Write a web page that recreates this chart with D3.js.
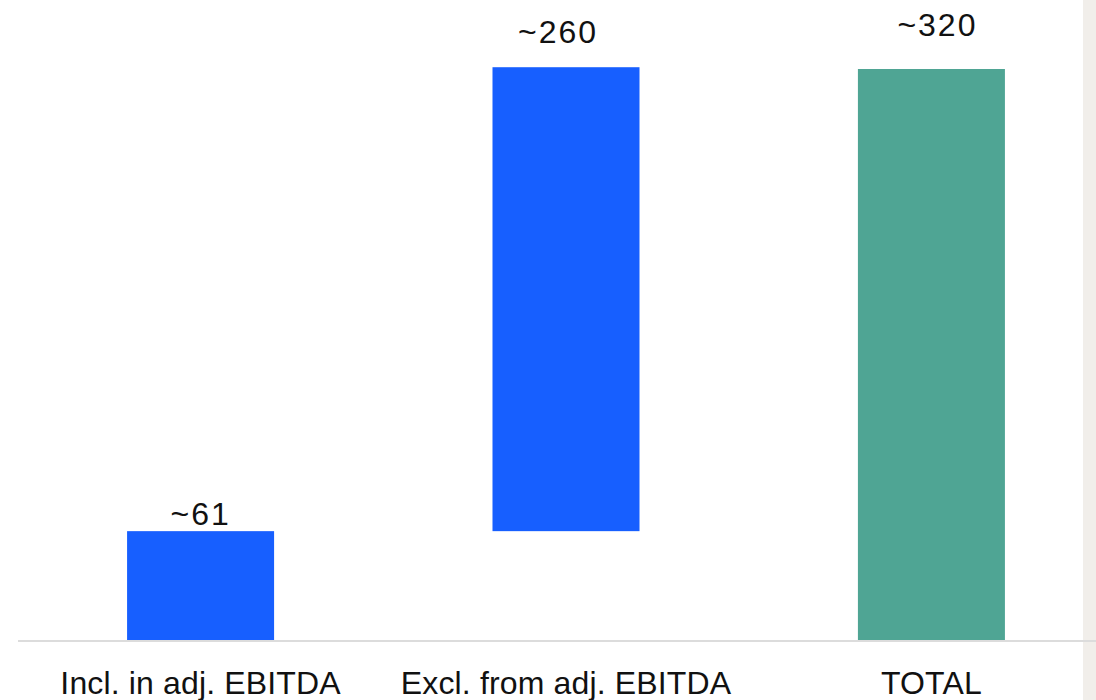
<!DOCTYPE html>
<html>
<head>
<meta charset="utf-8">
<script src="https://cdn.jsdelivr.net/npm/d3@7"></script>
<style>
  html, body { margin: 0; padding: 0; background: #fff; overflow: hidden; }
  svg { display: block; }
  text { font-family: "Liberation Sans", Arial, sans-serif; fill: #111; }
</style>
</head>
<body>
<svg id="chart" width="1096" height="700"></svg>
<script>
// Bridge data: two components and their total
const categories = ["Incl. in adj. EBITDA", "Excl. from adj. EBITDA", "TOTAL"];
const values = [61, 260, 320];
const valueLabels = ["~61", "~260", "~320"];
const isTotal = [false, false, true];

const W = 1096, H = 700;
const svg = d3.select("#chart");

// running start of each bar (totals start at zero)
let run = 0;
const bars = categories.map((c, i) => {
  const start = isTotal[i] ? 0 : run;
  const end = isTotal[i] ? values[i] : run + values[i];
  if (!isTotal[i]) run = end;
  return { cat: c, value: values[i], label: valueLabels[i], start, end, total: isTotal[i] };
});

const x = d3.scaleBand()
  .domain(categories)
  .range([18, 1114])
  .paddingInner(0.5977)
  .paddingOuter(0.2985);

const y = d3.scaleLinear().domain([0, 320]).range([640, 69]);

// light panel on the right edge
svg.append("rect")
  .attr("x", 1083).attr("y", 0)
  .attr("width", W - 1083).attr("height", H)
  .attr("fill", "#f1eeea");

svg.append("g").selectAll("rect")
  .data(bars)
  .join("rect")
  .attr("x", d => x(d.cat))
  .attr("width", x.bandwidth())
  .attr("y", d => y(Math.max(d.start, d.end)))
  .attr("height", d => Math.abs(y(d.start) - y(d.end)))
  .attr("fill", d => d.total ? "#4fa594" : "#175fff");

// baseline axis
const axis = d3.axisBottom(x).tickSize(0).tickPadding(0);
const gx = svg.append("g").attr("transform", `translate(0,${y(0)})`).call(axis);
gx.select(".domain").remove();
svg.append("line")
  .attr("x1", 18).attr("x2", W)
  .attr("y1", y(0) + 1).attr("y2", y(0) + 1)
  .attr("stroke", "#dcdcdc").attr("stroke-width", 2);
gx.selectAll(".tick text")
  .attr("y", 54)
  .attr("dy", 0)
  .style("font-size", "32px")
  .style("letter-spacing", "0.15px")
  .style("font-family", "'Liberation Sans', Arial, sans-serif")
  .attr("fill", "#111");

// value labels above each bar
const lift = [6, 24, 33];
const shift = [0, -8, 6];
svg.append("g").selectAll("text")
  .data(bars)
  .join("text")
  .attr("x", (d, i) => x(d.cat) + x.bandwidth() / 2 + shift[i])
  .attr("y", (d, i) => y(Math.max(d.start, d.end)) - lift[i])
  .attr("text-anchor", "middle")
  .style("font-size", "32px")
  .style("letter-spacing", "2px")
  .text(d => d.label);
</script>
</body>
</html>
